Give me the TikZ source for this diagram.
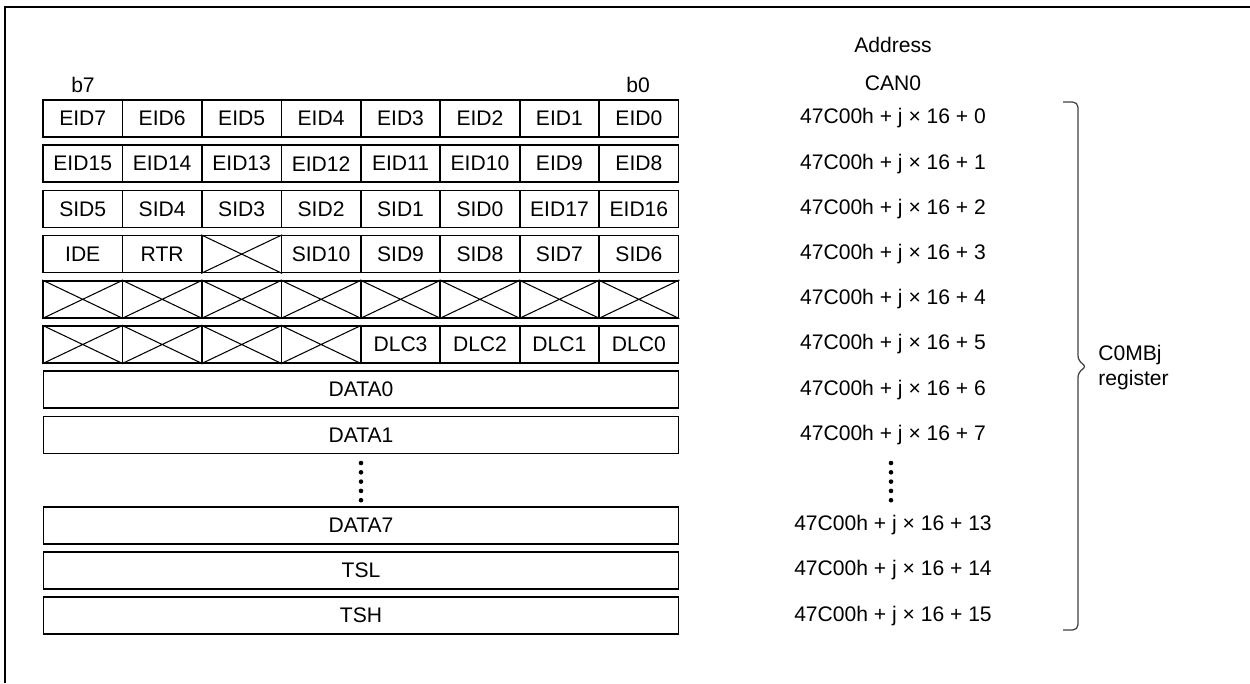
\documentclass[tikz,border=0pt]{standalone}
\usepackage{fontspec}
\setmainfont{Liberation Sans}
\usetikzlibrary{positioning}

\begin{document}
\begin{tikzpicture}[
    x=0.02cm, y=-0.02cm,
    font=\fontsize{12}{14.2}\selectfont,
    cell/.style={
        draw, line width=0.9pt, rectangle,
        minimum width=1.589cm, minimum height=0.74cm,
        inner sep=0pt, anchor=center,
    },
    wide/.style={cell, minimum width=12.71cm},
    xline/.style={line width=0.6pt},
    addr/.style={inner sep=0pt},
    brace/.style={draw=black!75, line width=0.7pt, rounded corners=3pt},
    dot/.style={fill=black},
]
\useasboundingbox (0,0) rectangle (1250,683);
% frame
\draw[line width=1.7pt] (5,683) -- (5,7) -- (1250,7);

% headings
\node[addr] (addrhead) at (893,45) {Address};
\node[addr] (canhead) at (893,83) {CAN0};
\node[addr] (msb) at (83,85) {b7};
\node[addr] (lsb) at (638,85) {b0};

% bit rows
\foreach \r/\bits in {
    1/{EID7,EID6,EID5,EID4,EID3,EID2,EID1,EID0},
    2/{EID15,EID14,EID13,EID12,EID11,EID10,EID9,EID8},
    3/{SID5,SID4,SID3,SID2,SID1,SID0,EID17,EID16},
    4/{IDE,RTR,{},SID10,SID9,SID8,SID7,SID6},
    5/{{},{},{},{},{},{},{},{}},
    6/{{},{},{},{},DLC3,DLC2,DLC1,DLC0}} {
  \foreach \txt [count=\c] in \bits
    \node[cell] (r\r c\c) at ({43+79.45*(\c-0.5)}, {118.5+45.2*(\r-1)}) {\txt};
}

% reserved bits
\foreach \n in {r4c3, r5c1, r5c2, r5c3, r5c4, r5c5, r5c6, r5c7, r5c8,
                r6c1, r6c2, r6c3, r6c4}
  \draw[xline] (\n.north west) -- (\n.south east)
               (\n.south west) -- (\n.north east);

% byte rows
\node[wide] (r7) at (361,{118.5+45.2*6}) {DATA0};
\node[wide] (r8) at (361,{118.5+45.2*7}) {DATA1};
\node[wide] (r10) at (361,{118.5+45.2*9}) {DATA7};
\node[wide] (r11) at (361,{118.5+45.2*10}) {TSL};
\node[wide] (r12) at (361,{118.5+45.2*11}) {TSH};

% addresses
\foreach \r/\off in {1/0, 2/1, 3/2, 4/3, 5/4, 6/5, 7/6, 8/7, 10/13, 11/14, 12/15}
  \node[addr] (a\r) at (893, {118.5+45.2*(\r-1)}) {47C00h + j × 16 + \off};

% omitted rows
\foreach \k in {0,...,4} {
  \fill[dot] (361,{463+9.3*\k}) circle (0.046cm);
  \fill[dot] (891,{463+9.3*\k}) circle (0.046cm);
}

% register brace
\draw[brace] (1063,102) -- (1078,102) -- (1078,361) -- (1087,366.5)
  -- (1078,372) -- (1078,630) -- (1063,630);
\node[addr, anchor=west, align=left] (regname) at (1098,368) {C0MBj\\register};
\end{tikzpicture}
\end{document}
